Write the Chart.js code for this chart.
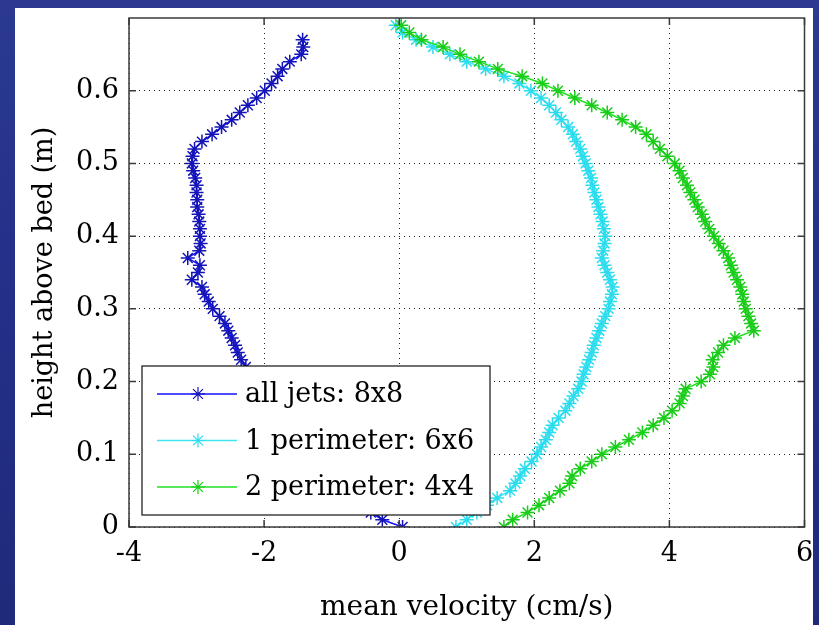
<!DOCTYPE html>
<html>
<head>
<meta charset="utf-8">
<script src="https://cdn.jsdelivr.net/npm/chart.js@4.4.0/dist/chart.umd.min.js"></script>
<style>
  html, body { margin: 0; padding: 0; }
  body {
    width: 819px; height: 625px; overflow: hidden; position: relative;
    background: linear-gradient(180deg, #2b3a90 0%, #24318a 40%, #1f2a7a 100%);
  }
  #wrap { position: absolute; left: 15px; top: 8px; width: 798px; height: 617px; background: #fff; }
</style>
</head>
<body>
<div id="wrap"><canvas id="myChart" width="798" height="617"></canvas></div>
<script>
// height above bed (m), one reading every 0.01 m
const heights = [
  0.00, 0.01, 0.02, 0.03, 0.04, 0.05, 0.06, 0.07, 0.08, 0.09,
  0.10, 0.11, 0.12, 0.13, 0.14, 0.15, 0.16, 0.17, 0.18, 0.19,
  0.20, 0.21, 0.22, 0.23, 0.24, 0.25, 0.26, 0.27, 0.28, 0.29,
  0.30, 0.31, 0.32, 0.33, 0.34, 0.35, 0.36, 0.37, 0.38, 0.39,
  0.40, 0.41, 0.42, 0.43, 0.44, 0.45, 0.46, 0.47, 0.48, 0.49,
  0.50, 0.51, 0.52, 0.53, 0.54, 0.55, 0.56, 0.57, 0.58, 0.59,
  0.60, 0.61, 0.62, 0.63, 0.64, 0.65, 0.66, 0.67, 0.68, 0.69
];
// mean velocity (cm/s) for each height
const allJets = [
  0.05, -0.25, -0.42, -0.55, -0.68, -0.8, -0.9, -1.0, -1.1, -1.2,
  -1.3, -1.4, -1.5, -1.6, -1.68, -1.76, -1.85, -1.92, -2.0, -2.08,
  -2.15, -2.22, -2.27, -2.34, -2.39, -2.43, -2.48, -2.53, -2.58, -2.66,
  -2.76, -2.82, -2.88, -2.92, -3.07, -2.98, -2.95, -3.13, -2.96, -2.94,
  -2.95, -2.95, -2.96, -2.97, -2.99, -2.99, -3.0, -3.0, -3.02, -3.05,
  -3.07, -3.06, -3.03, -2.92, -2.77, -2.63, -2.48, -2.36, -2.24, -2.11,
  -1.99, -1.89, -1.8, -1.73, -1.62, -1.45, -1.42, -1.43, null, null
];
const onePerimeter = [
  0.84, 1.0, 1.15, 1.3, 1.45, 1.64, 1.72, 1.79, 1.86, 1.96,
  2.04, 2.1, 2.17, 2.22, 2.27, 2.36, 2.46, 2.52, 2.58, 2.65,
  2.7, 2.73, 2.77, 2.81, 2.85, 2.88, 2.92, 2.96, 3.0, 3.05,
  3.1, 3.12, 3.15, 3.16, 3.12, 3.08, 3.04, 3.0, 3.02, 3.04,
  3.05, 3.03, 3.01, 2.98, 2.95, 2.92, 2.89, 2.86, 2.84, 2.8,
  2.76, 2.72, 2.68, 2.62, 2.57, 2.5, 2.4, 2.32, 2.22, 2.1,
  1.95, 1.78, 1.55, 1.28, 1.0, 0.75, 0.5, 0.25, 0.05, -0.05
];
const twoPerimeter = [
  1.55, 1.68, 1.9, 2.07, 2.22, 2.38, 2.52, 2.56, 2.68, 2.85,
  3.0, 3.2, 3.4, 3.6, 3.76, 3.92, 4.04, 4.15, 4.2, 4.24,
  4.47, 4.6, 4.65, 4.64, 4.72, 4.8, 4.97, 5.25, 5.21, 5.17,
  5.13, 5.1, 5.08, 5.05, 5.0, 4.95, 4.91, 4.87, 4.8, 4.73,
  4.66, 4.59, 4.53, 4.48, 4.42, 4.37, 4.31, 4.26, 4.2, 4.15,
  4.08, 3.97, 3.86, 3.76, 3.66, 3.5, 3.3, 3.08, 2.85, 2.6,
  2.35, 2.12, 1.82, 1.46, 1.18, 0.9, 0.65, 0.33, 0.15, 0.03
];
const seriesNames = ['all jets: 8x8', '1 perimeter: 6x6', '2 perimeter: 4x4'];
const xTicks = [-4, -2, 0, 2, 4, 6];
const yTicks = [0, 0.1, 0.2, 0.3, 0.4, 0.5, 0.6];

const FONT = 'DejaVu Serif';

const profile = (vals) => heights
  .map((h, i) => ({ x: vals[i], y: h }))
  .filter(p => p.x !== null);

const mkSet = (label, vals, line, mark, order) => ({
  label: label,
  data: profile(vals),
  showLine: true,
  borderColor: line,
  borderWidth: 1.5,
  pointStyle: 'star',
  pointRadius: 7,
  pointBorderWidth: 1.5,
  pointBorderColor: mark,
  pointBackgroundColor: mark,
  order: order
});

// star marker like matlab '*'
const star = (ctx, cx, cy, r) => {
  ctx.beginPath();
  for (let k = 0; k < 4; k++) {
    const a = k * Math.PI / 4;
    ctx.moveTo(cx - r * Math.cos(a), cy - r * Math.sin(a));
    ctx.lineTo(cx + r * Math.cos(a), cy + r * Math.sin(a));
  }
  ctx.stroke();
};

const frame = {
  id: 'frame',
  afterDatasetsDraw(chart) {
    const { ctx, chartArea: a, scales: { x, y } } = chart;
    ctx.save();
    ctx.strokeStyle = '#3a3a3a';
    ctx.lineWidth = 1.5;
    ctx.strokeRect(a.left, a.top, a.right - a.left, a.bottom - a.top);
    ctx.beginPath();
    xTicks.forEach(v => {
      const p = x.getPixelForValue(v);
      ctx.moveTo(p, a.bottom); ctx.lineTo(p, a.bottom - 7);
      ctx.moveTo(p, a.top); ctx.lineTo(p, a.top + 7);
    });
    yTicks.forEach(v => {
      const p = y.getPixelForValue(v);
      ctx.moveTo(a.left, p); ctx.lineTo(a.left + 7, p);
      ctx.moveTo(a.right, p); ctx.lineTo(a.right - 7, p);
    });
    ctx.stroke();

    // legend box, lower left inside the axes
    const lx = 127, ly = 358, lw = 348, lh = 149;
    ctx.fillStyle = '#fff';
    ctx.fillRect(lx, ly, lw, lh);
    ctx.strokeStyle = '#111';
    ctx.lineWidth = 1.2;
    ctx.strokeRect(lx, ly, lw, lh);
    chart.data.datasets.forEach((ds, i) => {
      const cy = ly + 28 + i * 46.5;
      ctx.strokeStyle = ds.borderColor;
      ctx.lineWidth = 1.3;
      ctx.beginPath();
      ctx.moveTo(lx + 15, cy);
      ctx.lineTo(lx + 95, cy);
      ctx.stroke();
      ctx.strokeStyle = ds.pointBorderColor;
      ctx.lineWidth = 1.2;
      star(ctx, lx + 56, cy, 7);
      ctx.fillStyle = '#000';
      ctx.font = '27px "' + FONT + '"';
      ctx.textBaseline = 'middle';
      ctx.textAlign = 'left';
      ctx.fillText(ds.label, lx + 103, cy + 1);
    });
    ctx.restore();
  }
};

const ctx = document.getElementById('myChart').getContext('2d');
const myChart = new Chart(ctx, {
  type: 'scatter',
  data: {
    datasets: [
      mkSet(seriesNames[0], allJets, '#1212ff', '#1414b8', 3),
      mkSet(seriesNames[1], onePerimeter, '#3ee6f2', '#2adcee', 2),
      mkSet(seriesNames[2], twoPerimeter, '#22e022', '#18cc18', 1)
    ]
  },
  options: {
    responsive: false,
    animation: false,
    layout: { padding: { top: 10, right: 6, left: 0, bottom: 0 } },
    plugins: {
      legend: { display: false },
      tooltip: { enabled: false }
    },
    scales: {
      x: {
        type: 'linear',
        min: -4,
        max: 6,
        afterBuildTicks: (s) => { s.ticks = xTicks.map(v => ({ value: v })); },
        ticks: {
          color: '#000',
          padding: 11,
          maxRotation: 0,
          font: { family: FONT, size: 27 }
        },
        grid: { color: '#222', lineWidth: 1, drawTicks: false },
        border: { display: false, dash: [1, 4] },
        title: {
          display: true,
          text: 'mean velocity (cm/s)',
          color: '#000',
          font: { family: FONT, size: 28 },
          padding: { top: 0, bottom: 0 }
        },
        afterFit: (s) => { s.height = 98; s.paddingLeft = 0; s.paddingRight = 0; }
      },
      y: {
        type: 'linear',
        min: 0,
        max: 0.7,
        afterBuildTicks: (s) => { s.ticks = yTicks.map(v => ({ value: v })); },
        ticks: {
          color: '#000',
          padding: 10,
          font: { family: FONT, size: 27 },
          callback: (v) => String(+v.toFixed(1))
        },
        grid: { color: '#222', lineWidth: 1, drawTicks: false },
        border: { display: false, dash: [1, 4] },
        title: {
          display: true,
          text: 'height above bed (m)',
          color: '#000',
          font: { family: FONT, size: 27 },
          padding: { top: 14, bottom: 0 }
        },
        afterFit: (s) => { s.width = 114; s.paddingTop = 0; s.paddingBottom = 0; }
      }
    }
  },
  plugins: [frame]
});
</script>
</body>
</html>
